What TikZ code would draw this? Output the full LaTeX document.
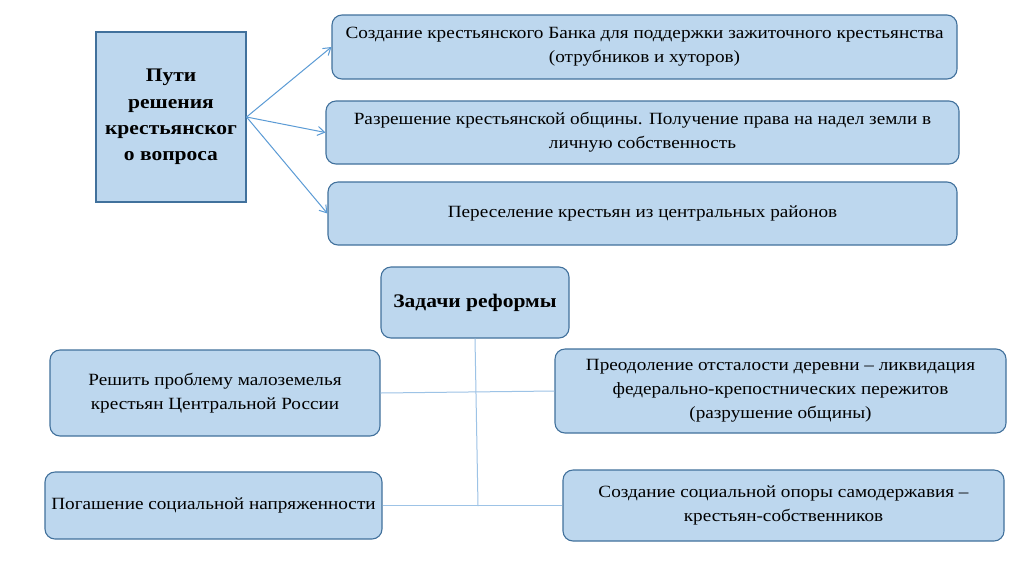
\documentclass[tikz,border=0pt]{standalone}
\usepackage{fontspec}
\setmainfont{Liberation Serif}[FakeStretch=1.12]
\usetikzlibrary{arrows.meta}
\definecolor{boxfill}{HTML}{BDD7EE}
\definecolor{boxline}{HTML}{41719C}
\definecolor{conn}{HTML}{9DC3E6}
\definecolor{arr}{HTML}{5B9BD5}
\begin{document}
\begin{tikzpicture}[x=1pt,y=-1pt,
  box/.style={draw=boxline,fill=boxfill,line width=1.1pt,rounded corners=10pt,
    inner sep=2pt,align=center,font=\fontsize{17.15}{24}\selectfont},
  sqbox/.style={draw=boxline,fill=boxfill,line width=1.1pt,
    inner sep=2pt,align=center,font=\fontsize{19.2}{26.3}\selectfont\bfseries},
  conline/.style={draw=conn,line width=1pt},
  arrline/.style={draw=arr,line width=1pt,-{Straight Barb[length=7pt,width=9pt]}}]
\useasboundingbox (0,0) rectangle (1024,574);
\fill[white] (0,0) rectangle (1024,574);
% top part
\node[sqbox,minimum width=150pt,minimum height=170pt] (ways) at (171,117)
  {Пути\\решения\\крестьянског\\о вопроса};
\node[box,minimum width=625pt,minimum height=64pt] (b1) at (644.5,47)
  {Создание крестьянского Банка для поддержки зажиточного крестьянства\\(отрубников и хуторов)};
\node[box,minimum width=633pt,minimum height=63pt] (b2) at (642.5,132.5)
  {Разрешение крестьянской общины. Получение права на надел земли в\\личную собственность};
\node[box,minimum width=629pt,minimum height=63pt] (b3) at (642.5,213.5)
  {Переселение крестьян из центральных районов};
\draw[arrline] (ways.east) -- (b1.west);
\draw[arrline] (ways.east) -- (b2.west);
\draw[arrline] (ways.east) -- (b3.west);
% bottom part
\node[box,minimum width=188pt,minimum height=71pt,font=\fontsize{19.2}{26}\selectfont\bfseries] (task) at (475,302.5)
  {Задачи реформы};
\node[box,minimum width=330pt,minimum height=86pt] (t1) at (215,393)
  {Решить проблему малоземелья\\крестьян Центральной России};
\node[box,minimum width=451pt,minimum height=84pt] (t2) at (780.5,391)
  {Преодоление отсталости деревни – ликвидация\\федерально-крепостнических пережитов\\(разрушение общины)};
\node[box,minimum width=337pt,minimum height=67pt] (t3) at (213.5,505.5)
  {Погашение социальной напряженности};
\node[box,minimum width=441pt,minimum height=71pt] (t4) at (783.5,505.5)
  {Создание социальной опоры самодержавия –\\крестьян-собственников};
\coordinate (vbot) at (478,506);
\draw[conline] (task.south) -- (vbot);
\draw[conline] (t1.east) -- (t2.west);
\draw[conline] (t3.east) -- (t4.west);
\end{tikzpicture}
\end{document}
